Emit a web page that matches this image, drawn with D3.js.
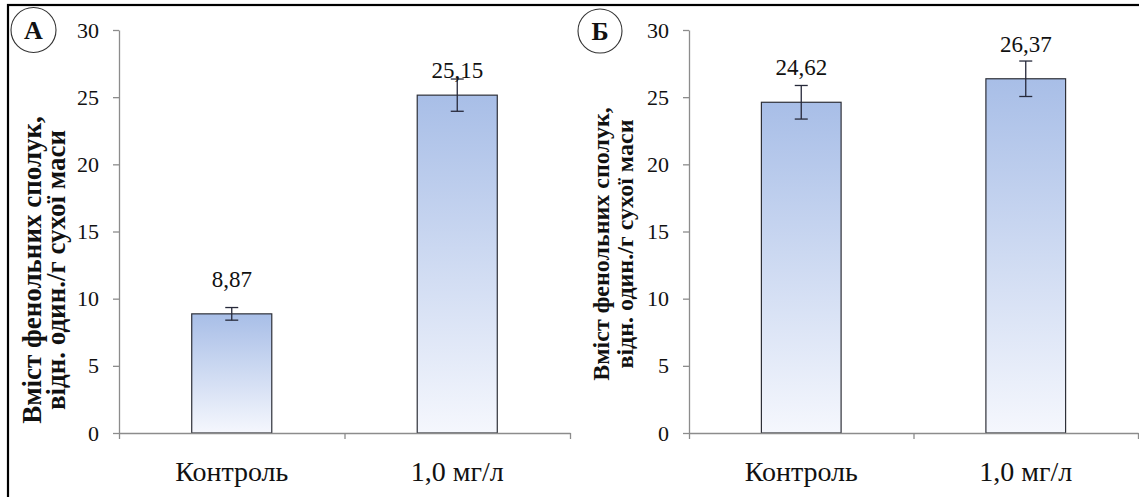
<!DOCTYPE html>
<html><head><meta charset="utf-8">
<script src="https://cdn.jsdelivr.net/npm/d3@7"></script>
<style>
  body { margin: 0; background: #fff; }
  svg text { font-family: "Liberation Serif", Tinos, "DejaVu Serif", serif; fill: #111; }
</style>
</head><body>
<svg id="chart" width="1139" height="497"></svg>
<script>
// Phenolic compound content: control vs 1.0 mg/l, two experiments (А, Б)
const categories = ["Контроль", "1,0 мг/л"];
const panelLetters = ["А", "Б"];
const valuesA = [8.87, 25.15];
const errorsA = [0.47, 1.2];
const valuesB = [24.62, 26.37];
const errorsB = [1.25, 1.32];
const yTicks = [0, 5, 10, 15, 20, 25, 30];
const yTitleLines = ["Вміст фенольних сполук,", "відн. один./г сухої маси"];

const fmt = v => v.toFixed(2).replace(".", ",");
const serif = '"Liberation Serif", Tinos, "DejaVu Serif", serif';

const svg = d3.select("#chart");
svg.append("rect").attr("width", 1139).attr("height", 497).attr("fill", "#fff");

const defs = svg.append("defs");
const grad = defs.append("linearGradient").attr("id", "barFill")
  .attr("x1", 0).attr("y1", 0).attr("x2", 0).attr("y2", 1);
grad.append("stop").attr("offset", "0%").attr("stop-color", "#a8bee7");
grad.append("stop").attr("offset", "100%").attr("stop-color", "#f5f7fd");

// outer frame
svg.append("rect").attr("x", 8).attr("y", 5).attr("width", 1200).attr("height", 600)
  .attr("fill", "none").attr("stroke", "#000").attr("stroke-width", 2.2);

const y = d3.scaleLinear().domain([0, 30]).range([433, 30]);

const panels = [
  { letter: panelLetters[0], values: valuesA, errors: errorsA, x0: 119, x1: 570,
    badge: [33.5, 30, 22.5], titleX: [41, 65], titleY: 270, titleSize: 27, lift: [27, 17] },
  { letter: panelLetters[1], values: valuesB, errors: errorsB, x0: 689, x1: 1138,
    badge: [600, 31, 22], titleX: [609, 633], titleY: 244, titleSize: 24, lift: [27, 27] }
];

const axisColor = "#8c8c8c";

panels.forEach(p => {
  const g = svg.append("g").attr("font-family", serif);
  const x = d3.scaleBand().domain(categories).range([p.x0, p.x1])
    .paddingInner(0.645).paddingOuter(0.3225);
  const xEdges = d3.scaleLinear().domain([0, categories.length]).range([p.x0, p.x1]);

  // bars
  const data = categories.map((c, i) => ({ c, v: p.values[i], e: p.errors[i], lift: p.lift[i] }));
  g.selectAll("rect.bar").data(data).join("rect")
    .attr("class", "bar")
    .attr("x", d => x(d.c)).attr("width", x.bandwidth())
    .attr("y", d => y(d.v)).attr("height", d => y(0) - y(d.v))
    .attr("fill", "url(#barFill)").attr("stroke", "#2e3038").attr("stroke-width", 1.2);

  // y axis
  const ya = g.append("g").attr("transform", `translate(${p.x0},0)`)
    .call(d3.axisLeft(y).tickValues(yTicks).tickSize(6).tickSizeOuter(0).tickPadding(14));
  ya.attr("font-family", serif);
  ya.select(".domain").attr("stroke", axisColor).attr("stroke-width", 1.3);
  ya.selectAll(".tick line").attr("stroke", axisColor).attr("stroke-width", 1.3);
  ya.selectAll(".tick text").attr("font-size", 22).attr("fill", "#111");

  // x axis with category boundary ticks
  const xa = g.append("g").attr("transform", `translate(0,${y(0)})`)
    .call(d3.axisBottom(xEdges).tickValues(d3.range(categories.length + 1))
      .tickSize(6).tickSizeOuter(0).tickFormat(""));
  xa.select(".domain").attr("stroke", axisColor).attr("stroke-width", 1.3);
  xa.selectAll(".tick line").attr("stroke", axisColor).attr("stroke-width", 1.3);

  // category labels
  g.selectAll("text.cat").data(categories).join("text")
    .attr("class", "cat")
    .attr("x", c => x(c) + x.bandwidth() / 2).attr("y", 481)
    .attr("text-anchor", "middle").attr("font-size", 28).text(c => c);

  // error bars
  const eb = g.selectAll("g.err").data(data).join("g").attr("class", "err")
    .attr("stroke", "#26293a").attr("stroke-width", 1.3);
  const cx = d => x(d.c) + x.bandwidth() / 2;
  eb.append("line").attr("x1", cx).attr("x2", cx)
    .attr("y1", d => y(d.v + d.e)).attr("y2", d => y(d.v - d.e));
  eb.append("line").attr("x1", d => cx(d) - 6.5).attr("x2", d => cx(d) + 6.5)
    .attr("y1", d => y(d.v + d.e)).attr("y2", d => y(d.v + d.e));
  eb.append("line").attr("x1", d => cx(d) - 6.5).attr("x2", d => cx(d) + 6.5)
    .attr("y1", d => y(d.v - d.e)).attr("y2", d => y(d.v - d.e));

  // value labels
  g.selectAll("text.val").data(data).join("text")
    .attr("class", "val")
    .attr("x", cx).attr("y", d => y(d.v) - d.lift)
    .attr("text-anchor", "middle").attr("font-size", 23).text(d => fmt(d.v));

  // y axis title (two rotated lines)
  yTitleLines.forEach((t, i) => {
    g.append("text")
      .attr("transform", `translate(${p.titleX[i]},${p.titleY}) rotate(-90)`)
      .attr("text-anchor", "middle").attr("font-weight", "bold")
      .attr("font-size", p.titleSize).text(t);
  });

  // panel badge
  const [bx, by, br] = p.badge;
  g.append("circle").attr("cx", bx).attr("cy", by).attr("r", br)
    .attr("fill", "#fff").attr("stroke", "#333").attr("stroke-width", 1.1);
  g.append("text").attr("x", bx).attr("y", by + 9).attr("text-anchor", "middle")
    .attr("font-weight", "bold").attr("font-size", 26).text(p.letter);
});
</script>
</body></html>
